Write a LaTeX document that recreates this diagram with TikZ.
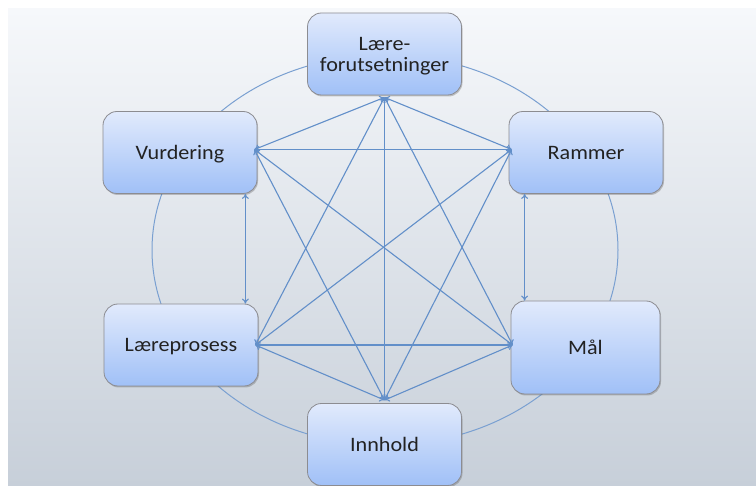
\documentclass[tikz,border=0pt]{standalone}
\usepackage{fontspec}
\usepackage{graphicx}
\setmainfont{Carlito}
\usetikzlibrary{arrows.meta,shadows}
\definecolor{bgtop}{RGB}{246,248,251}
\definecolor{bgbot}{RGB}{199,207,217}
\definecolor{boxtop}{RGB}{225,234,252}
\definecolor{boxbot}{RGB}{160,192,247}
\definecolor{boxline}{RGB}{140,140,145}
\definecolor{arrc}{RGB}{98,143,201}
\definecolor{txt}{RGB}{34,34,34}
\newcommand{\boxtxt}[1]{\raisebox{-3pt}[\height][\depth]{\scalebox{1.08}[1]{\begin{tabular}{@{}c@{}}#1\end{tabular}}}}
\begin{document}
\begin{tikzpicture}[x=1pt,y=-1pt,
  box/.style={draw=boxline, line width=0.8pt, rounded corners=14pt,
    top color=boxtop, bottom color=boxbot,
    minimum width=154pt, minimum height=82pt, text=txt,
    font=\fontsize{20.5}{20}\selectfont, align=center, inner sep=0pt,
    drop shadow={opacity=0.3, shadow xshift=1pt, shadow yshift=-1.5pt, fill=black!70}},
  link/.style={draw=arrc, line width=1.1pt, {To[length=5pt,width=7pt]}-{To[length=5pt,width=7pt]}},
  ring/.style={draw=arrc!85, line width=1pt}]
\useasboundingbox (0,0) rectangle (756,486);
\fill[white] (0,0) rectangle (756,486);
\shade[top color=bgtop, bottom color=bgbot] (8,9) rectangle (756,486);
\draw[ring] (385,250) ellipse [x radius=233pt, y radius=195pt];

\node[box] (LF) at (384.5,54) {\boxtxt{Lære-\\forutsetninger}};
\node[box] (V) at (180,152.5) {\boxtxt{Vurdering}};
\node[box] (R) at (586,152.5) {\boxtxt{Rammer}};
\node[box] (L) at (181,345) {\boxtxt{Læreprosess}};
\node[box, minimum width=149pt, minimum height=93pt] (M) at (585.5,347.5) {\boxtxt{Mål}};
\node[box] (I) at (384.5,444.5) {\boxtxt{Innhold}};

\coordinate (Ve) at ([xshift=-3pt,yshift=3pt]V.east);
\coordinate (Rw) at ([xshift=3pt,yshift=3pt]R.west);
\coordinate (Le) at ([xshift=-3pt]L.east);
\coordinate (Mw) at ([xshift=2pt,yshift=2.5pt]M.west);
\coordinate (LFs) at ([yshift=-2pt]LF.south);
\coordinate (In) at ([yshift=3pt]I.north);
\coordinate (Vs) at ([xshift=-12pt]V.south east);
\coordinate (Ln) at (Vs |- L.north);
\coordinate (Rs) at ([xshift=16pt]R.south west);
\coordinate (Mn) at (Rs |- M.north);

\draw[link] (Ve) -- (Rw);
\draw[link] (Le) -- (Mw);
\draw[link] (LFs) -- (In);
\draw[link] (LFs) -- (Ve);
\draw[link] (LFs) -- (Rw);
\draw[link] (LFs) -- (Le);
\draw[link] (LFs) -- (Mw);
\draw[link] (In) -- (Ve);
\draw[link] (In) -- (Rw);
\draw[link] (In) -- (Le);
\draw[link] (In) -- (Mw);
\draw[link] (Ve) -- (Mw);
\draw[link] (Rw) -- (Le);
\draw[link] (Vs) -- (Ln);
\draw[link] (Rs) -- (Mn);
\end{tikzpicture}
\end{document}
